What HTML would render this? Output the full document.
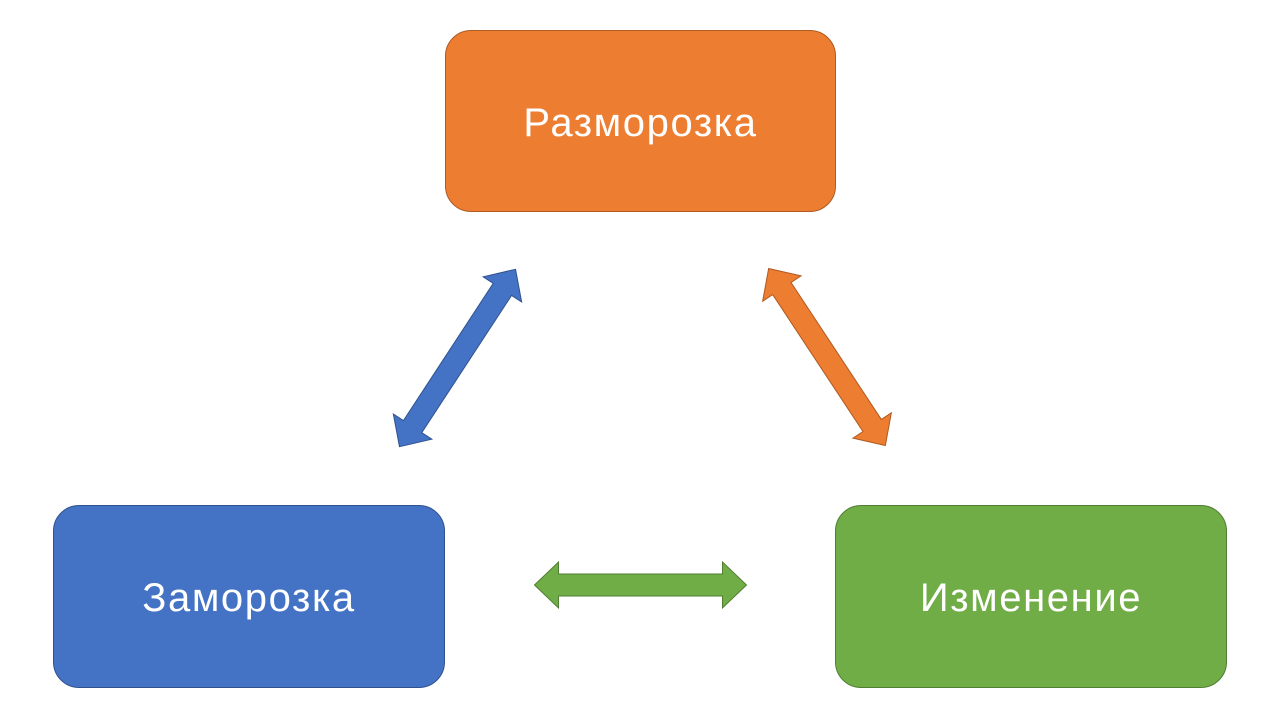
<!DOCTYPE html>
<html><head><meta charset="utf-8"><style>
html,body{margin:0;padding:0;background:#fff;width:1280px;height:720px;overflow:hidden}
.b{position:absolute;border-radius:26px;color:#fff;font-family:"Liberation Sans",sans-serif;font-size:40px;letter-spacing:1.6px;display:flex;align-items:center;justify-content:center;box-sizing:border-box;padding-top:4px}
</style></head><body>
<div class="b" style="left:445px;top:30px;width:391px;height:182px;background:#ed7d31;border:1px solid #ae5a21">Разморозка</div>
<div class="b" style="left:53px;top:505px;width:392px;height:183px;background:#4472c4;border:1px solid #2f528f">Заморозка</div>
<div class="b" style="left:835px;top:505px;width:392px;height:183px;background:#70ad47;border:1px solid #507e32">Изменение</div>
<svg width="1280" height="720" style="position:absolute;left:0;top:0">
<defs><polygon id="a" points="-106,0 -82,-23 -82,-11 82,-11 82,-23 106,0 82,23 82,11 -82,11 -82,23"/></defs>
<use href="#a" transform="translate(640.5,585)" fill="#70ad47" stroke="#507e32" stroke-width="1"/>
<use href="#a" transform="translate(457.5,358) rotate(-56.8)" fill="#4472c4" stroke="#2f528f" stroke-width="1"/>
<use href="#a" transform="translate(827,357) rotate(56.6)" fill="#ed7d31" stroke="#ae5a21" stroke-width="1"/>
</svg>
</body></html>
